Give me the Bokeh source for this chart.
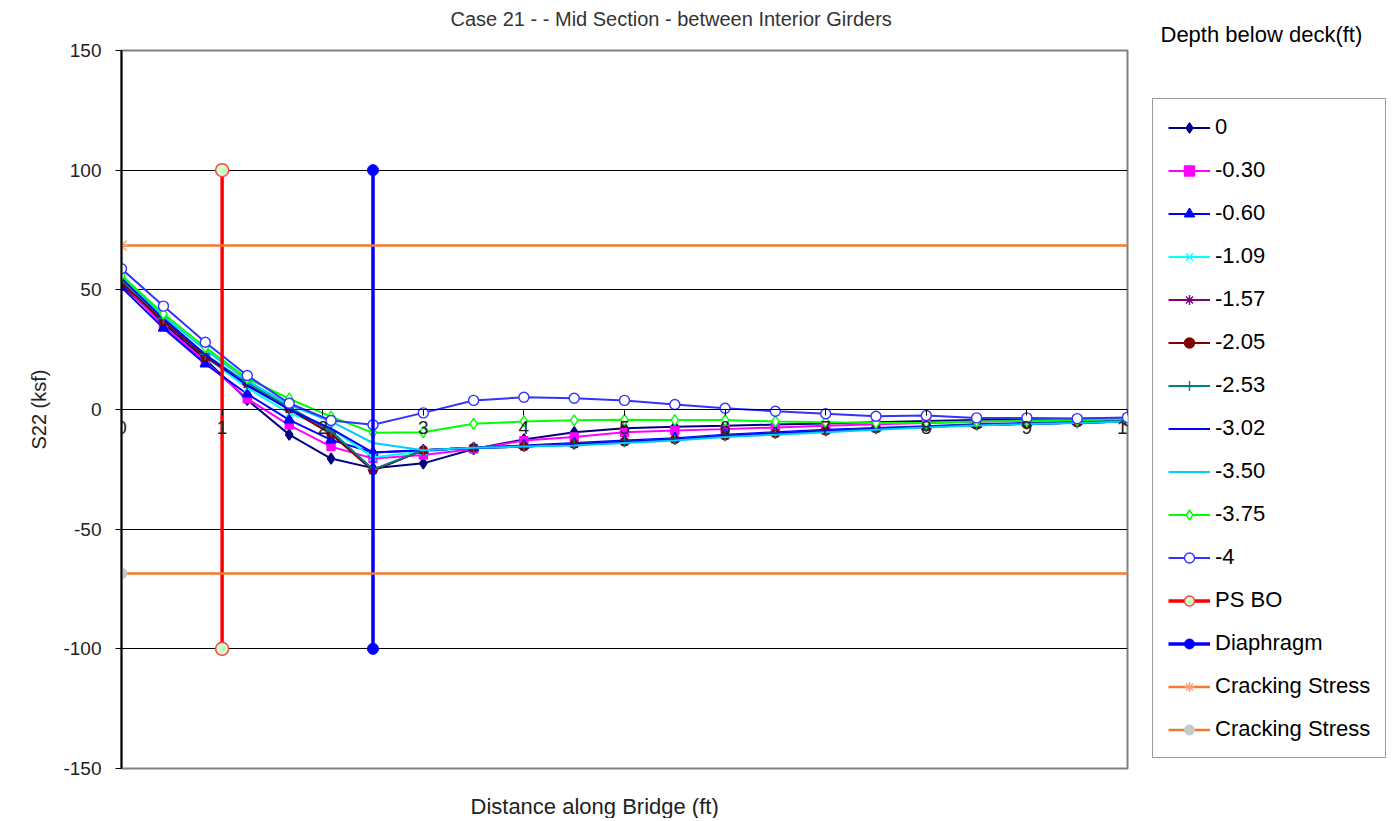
from bokeh.plotting import figure
from bokeh.models import (Range1d, Legend, LegendItem, Title, FixedTicker,
                          PrintfTickFormatter)
from bokeh.embed import file_html
from bokeh.resources import INLINE

# ---------------- data ----------------
x_dist = [0, 0.417, 0.833, 1.25, 1.667, 2.083, 2.5, 3, 3.5, 4, 4.5, 5, 5.5, 6, 6.5,
          7, 7.5, 8, 8.5, 9, 9.5, 10]

d_0     = [52, 36, 21, 4, -10.5, -20.5, -24.5, -22.5, -16.5, -12.5, -9.5, -7.8, -7.2, -6.8,
           -6.3, -5.8, -5.3, -4.8, -4.4, -4.1, -3.9, -3.6]
d_030   = [53, 35, 20, 4.5, -6.5, -15.5, -20.5, -19, -16.5, -13, -11.5, -9.5, -8.8, -8.2,
           -7.5, -6.8, -6.2, -5.6, -5.1, -4.6, -4.3, -3.7]
d_060   = [51, 34, 19, 6.5, -4.3, -12.7, -18, -17, -16, -15, -14, -13, -12, -10.5,
           -9.5, -8.5, -7.7, -7, -6.2, -5.6, -5.1, -4.6]
d_109   = [54, 37, 22, 9, -1.5, -8, -20, -17.5, -16, -15.5, -14.5, -13.5, -12.5, -11,
           -10, -9, -8, -7.2, -6.5, -6, -5.5, -5]
d_157   = [53, 37, 22, 10.5, 0, -10, -25.5, -17, -16, -15.5, -14.5, -13.5, -12.5, -11,
           -10, -9, -8, -7.2, -6.5, -6, -5.5, -5]
d_205   = [53, 37, 22, 11, 0.3, -10.2, -25.5, -17, -16, -15.5, -14.5, -13.5, -12.5, -11,
           -10, -9, -8, -7.2, -6.5, -6, -5.5, -5]
d_253   = [54, 38, 23, 11, 1, -9, -25, -17, -16, -15.5, -14.5, -13.5, -12.5, -11,
           -10, -9, -8, -7.2, -6.5, -6, -5.5, -5]
d_302   = [55, 38, 23, 10, 0, -8, -18, -17, -16, -15.5, -14.5, -13.5, -12.5, -11,
           -10, -9, -8, -7.2, -6.5, -6, -5.5, -5]
d_350   = [56, 39, 25, 12, 2, -5, -14, -17, -16, -15.5, -15, -14, -13, -11.5,
           -10.5, -9.5, -8.5, -7.5, -6.7, -6.1, -5.6, -5]
d_375   = [56, 40, 26, 13, 4.5, -3, -9.7, -9.5, -6, -5, -4.5, -4.3, -4.4, -4.4,
           -5, -5.3, -5.6, -5.5, -5, -4.8, -4.5, -4]
d_4     = [58.8, 43.2, 28.1, 14.2, 2.6, -4.6, -6.4, -1.4, 3.8, 5.1, 4.7, 3.8, 2.1, 0.5,
           -0.7, -1.8, -2.8, -2.5, -3.5, -3.5, -3.8, -3.3]

ps_bo_x = [1, 1]
ps_bo_y = [-100, 100]
diaph_x = [2.5, 2.5]
diaph_y = [-100, 100]
crack_x = [0, 10]
crack_hi = [68.5, 68.5]
crack_lo = [-68.5, -68.5]

series_labels = ["0", "-0.30", "-0.60", "-1.09", "-1.57", "-2.05", "-2.53",
                 "-3.02", "-3.50", "-3.75", "-4"]
series_values = [d_0, d_030, d_060, d_109, d_157, d_205, d_253, d_302, d_350, d_375, d_4]

y_ticks = [-150, -100, -50, 0, 50, 100, 150]
x_ticks = [0, 1, 2, 3, 4, 5, 6, 7, 8, 9, 10]

chart_title = "Case 21 -  - Mid Section - between Interior Girders"
legend_heading = "Depth below deck(ft)"
x_title = "Distance along Bridge (ft)"
y_title = "S22 (ksf)"

# ---------------- styles ----------------
styles = [
    dict(color="#000080", marker="diamond", size=11, fill="#000080"),
    dict(color="#FF00FF", marker="square", size=8, fill="#FF00FF"),
    dict(color="#0000FF", marker="triangle", size=10, fill="#0000FF"),
    dict(color="#00FFFF", marker="x", size=10, fill=None),
    dict(color="#800080", marker="asterisk", size=10, fill=None),
    dict(color="#800000", marker="circle", size=8, fill="#800000"),
    dict(color="#008080", marker="cross", size=11, fill=None),
    dict(color="#0000FF", marker=None),
    dict(color="#00CCFF", marker=None),
    dict(color="#00FF00", marker="diamond", size=11, fill="white"),
    dict(color="#3333FF", marker="circle", size=10, fill="white"),
]

FONT = "Liberation Sans"

p = figure(frame_width=1006, frame_height=718,
           x_range=Range1d(0, 10), y_range=Range1d(-150, 150),
           min_border_left=121, min_border_right=267, min_border_top=50, min_border_bottom=0,
           output_backend="svg", toolbar_location=None)
p.background_fill_color = "white"
p.border_fill_color = "white"
p.outline_line_color = "#808080"
p.outline_line_width = 2

p.xgrid.visible = False
p.ygrid.ticker = FixedTicker(ticks=[-100, -50, 0, 50, 100])
p.ygrid.grid_line_color = "black"
p.ygrid.grid_line_width = 1

p.yaxis.ticker = FixedTicker(ticks=y_ticks)
p.yaxis.formatter = PrintfTickFormatter(format="%d")
p.yaxis.axis_line_color = "black"
p.yaxis.axis_line_width = 2
p.yaxis.major_tick_out = 6
p.yaxis.major_tick_in = 0
p.yaxis.minor_tick_out = 0
p.yaxis.minor_tick_in = 0
p.yaxis.major_label_text_font = FONT
p.yaxis.major_label_text_font_size = "19px"
p.yaxis.major_label_text_color = "#222222"
p.yaxis.major_label_standoff = 14
p.yaxis.axis_label = y_title
p.yaxis.axis_label_text_font = FONT
p.yaxis.axis_label_text_font_size = "20px"
p.yaxis.axis_label_text_font_style = "normal"
p.yaxis.axis_label_text_color = "#222222"
p.yaxis.axis_label_standoff = 10

p.xaxis.fixed_location = 0
p.xaxis.ticker = FixedTicker(ticks=x_ticks)
p.xaxis.axis_line_color = "black"
p.xaxis.axis_line_width = 1
p.xaxis.major_tick_out = 6
p.xaxis.major_tick_in = 0
p.xaxis.minor_tick_out = 0
p.xaxis.minor_tick_in = 0
p.xaxis.major_label_text_font = FONT
p.xaxis.major_label_text_font_size = "19px"
p.xaxis.major_label_text_color = "#222222"
p.xaxis.major_label_standoff = 5

items = []
for lab, vals, st in zip(series_labels, series_values, styles):
    rs = [p.line(x_dist, vals, line_color=st["color"], line_width=2)]
    if st["marker"]:
        rs.append(p.scatter(x_dist, vals, marker=st["marker"], size=st["size"],
                            line_color=st["color"], line_width=1.4,
                            fill_color=st["fill"]))
    items.append(LegendItem(label=lab, renderers=rs))

# PS BO
r1 = p.line(ps_bo_x, ps_bo_y, line_color="#FF0000", line_width=3.5)
r2 = p.scatter(ps_bo_x, ps_bo_y, marker="circle", size=13, fill_color="#CCFFCC",
               line_color="#FF4040", line_width=1.5)
items.append(LegendItem(label="PS BO", renderers=[r1, r2]))

# Diaphragm
r1 = p.line(diaph_x, diaph_y, line_color="#0000FF", line_width=3.5)
r2 = p.scatter(diaph_x, diaph_y, marker="circle", size=11, fill_color="#0000FF",
               line_color="#0000FF")
items.append(LegendItem(label="Diaphragm", renderers=[r1, r2]))

# Cracking stress
r1 = p.line(crack_x, crack_hi, line_color="#F4792D", line_width=2.5)
r2 = p.scatter(crack_x[:1], crack_hi[:1], marker="asterisk", size=14,
               line_color="#FFA07A", line_width=1.5)
items.append(LegendItem(label="Cracking Stress", renderers=[r1, r2]))
r1 = p.line(crack_x, crack_lo, line_color="#F4792D", line_width=2.5)
r2 = p.scatter(crack_x[:1], crack_lo[:1], marker="circle", size=11,
               fill_color="#C8C8C8", line_color="#C8C8C8")
items.append(LegendItem(label="Cracking Stress", renderers=[r1, r2]))

legend = Legend(items=items, location=(25, 10))
legend.label_text_font = FONT
legend.label_text_font_size = "22px"
legend.label_text_color = "black"
legend.glyph_width = 42
legend.glyph_height = 25
legend.label_height = 25
legend.spacing = 17
legend.padding = 15
legend.label_standoff = 5
legend.margin = 0
legend.border_line_color = "#404040"
legend.border_line_width = 1.5
legend.background_fill_color = "white"
legend.background_fill_alpha = 1
p.add_layout(legend, "right")

# top panel: first added sits nearest the frame
p.add_layout(Title(text=legend_heading, align="left", offset=1039, vertical_align="top",
                   text_font=FONT, text_font_size="22px", text_font_style="normal",
                   text_color="black", standoff=4), "above")
p.add_layout(Title(text=chart_title, align="left", offset=329, vertical_align="bottom",
                   text_font=FONT, text_font_size="20px", text_font_style="normal",
                   text_color="#333333", standoff=-20), "above")

# bottom panel: spacer then axis title
p.add_layout(Title(text=" ", text_font=FONT, text_font_size="16px", standoff=4), "below")
p.add_layout(Title(text=x_title, align="left", offset=349,
                   text_font=FONT, text_font_size="22px", text_font_style="normal",
                   text_color="#222222", standoff=0), "below")

open("out.html", "w").write(file_html(p, INLINE))
